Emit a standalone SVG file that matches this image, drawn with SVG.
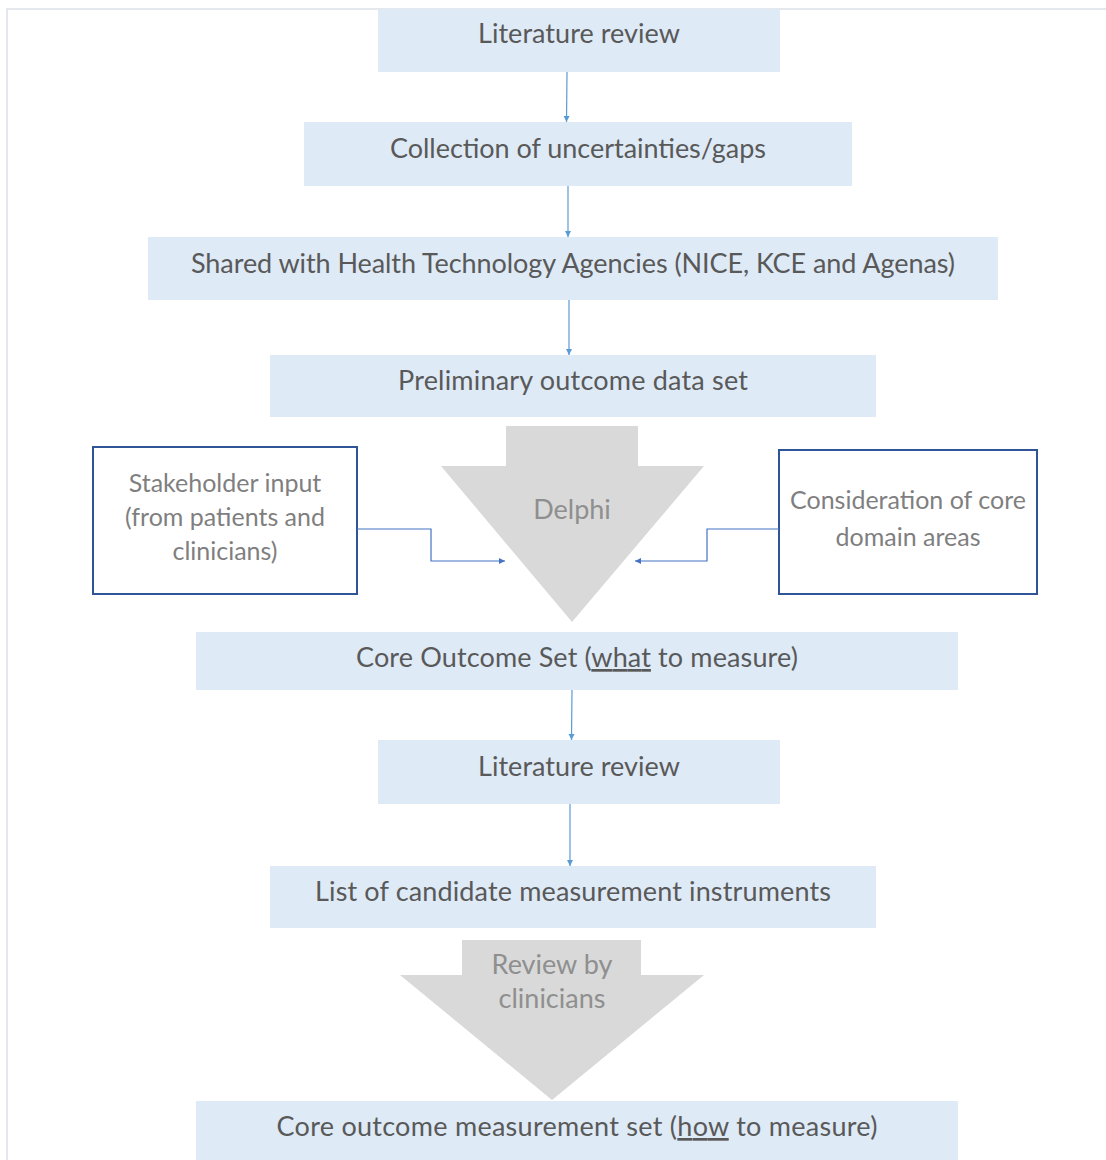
<svg xmlns="http://www.w3.org/2000/svg" width="1106" height="1160" viewBox="0 0 1106 1160">
<defs>
<style>
.box{fill:#deeaf6;}
.t{font-family:Lato,"Liberation Sans",sans-serif;font-size:27px;fill:#595959;text-anchor:middle;}
.s{font-family:Lato,"Liberation Sans",sans-serif;font-size:25px;fill:#7f7f7f;text-anchor:middle;}
.g{font-family:Lato,"Liberation Sans",sans-serif;font-size:27px;fill:#8f8f8f;text-anchor:middle;}
.side{fill:#ffffff;stroke:#2f5597;stroke-width:2;}
.big{fill:#d9d9d9;}
.c{fill:none;stroke:#5b9bd5;stroke-width:1.2;}
.e{fill:none;stroke:#4472c4;stroke-width:1.2;}
</style>
<marker id="ah" markerWidth="8" markerHeight="8" refX="6" refY="3" orient="auto" markerUnits="userSpaceOnUse">
<path d="M0,0 L6,3 L0,6 z" fill="#5b9bd5"/>
</marker>
<marker id="ah2" markerWidth="8" markerHeight="8" refX="6" refY="3" orient="auto" markerUnits="userSpaceOnUse">
<path d="M0,0 L6,3 L0,6 z" fill="#4472c4"/>
</marker>
</defs>
<rect x="0" y="0" width="1106" height="1160" fill="#ffffff"/>
<path d="M7,1160 L7,9 L1106,9" fill="none" stroke="#dce1e7" stroke-width="1.5"/>

<g id="n1"><rect class="box" x="378" y="9" width="402" height="63"/><text class="t" x="579" y="43" textLength="202">Literature review</text></g>
<g id="n2"><rect class="box" x="304" y="122" width="548" height="64"/><text class="t" x="578" y="158" textLength="376">Collection of uncertainties/gaps</text></g>
<g id="n3"><rect class="box" x="148" y="237" width="850" height="63"/><text class="t" x="573" y="273" textLength="764">Shared with Health Technology Agencies (NICE, KCE and Agenas)</text></g>
<g id="n4"><rect class="box" x="270" y="355" width="606" height="62"/><text class="t" x="573" y="390" textLength="350">Preliminary outcome data set</text></g>

<g id="delphi"><path class="big" d="M506,426 L638,426 L638,466 L704,466 L572,622 L441,466 L506,466 Z"/><text class="g" x="572" y="519">Delphi</text></g>

<g id="stakeholder"><rect class="side" x="93" y="447" width="264" height="147"/>
<text class="s" x="225" y="492">Stakeholder input</text>
<text class="s" x="225" y="526">(from patients and</text>
<text class="s" x="225" y="560">clinicians)</text></g>

<g id="consideration"><rect class="side" x="779" y="450" width="258" height="144"/>
<text class="s" x="908" y="509">Consideration of core</text>
<text class="s" x="908" y="546">domain areas</text></g>

<g id="n5"><rect class="box" x="196" y="632" width="762" height="58"/><text class="t" x="577" y="667" textLength="442">Core Outcome Set (<tspan text-decoration="underline">what</tspan> to measure)</text></g>
<g id="n6"><rect class="box" x="378" y="740" width="402" height="64"/><text class="t" x="579" y="776" textLength="202">Literature review</text></g>
<g id="n7"><rect class="box" x="270" y="866" width="606" height="62"/><text class="t" x="573" y="901" textLength="516">List of candidate measurement instruments</text></g>

<g id="review"><path class="big" d="M462,940 L641,940 L641,975 L704,975 L552,1100 L400,975 L462,975 Z"/>
<text class="g" x="552" y="974">Review by</text>
<text class="g" x="552" y="1008">clinicians</text></g>

<g id="n8"><rect class="box" x="196" y="1101" width="762" height="59"/><text class="t" x="577" y="1136" textLength="601">Core outcome measurement set (<tspan text-decoration="underline">how</tspan> to measure)</text></g>

<g id="connectors">
<path class="c" d="M567,72 L566.5,122" marker-end="url(#ah)"/>
<path class="c" d="M568,186 L568,237" marker-end="url(#ah)"/>
<path class="c" d="M569,300 L569,355" marker-end="url(#ah)"/>
<path class="c" d="M572,690 L571.5,740" marker-end="url(#ah)"/>
<path class="c" d="M570,804 L570,866" marker-end="url(#ah)"/>
<path class="e" d="M357,529 L431,529 L431,561 L505,561" marker-end="url(#ah2)"/>
<path class="e" d="M779,529 L707,529 L707,561 L635,561" marker-end="url(#ah2)"/>
</g>
</svg>
